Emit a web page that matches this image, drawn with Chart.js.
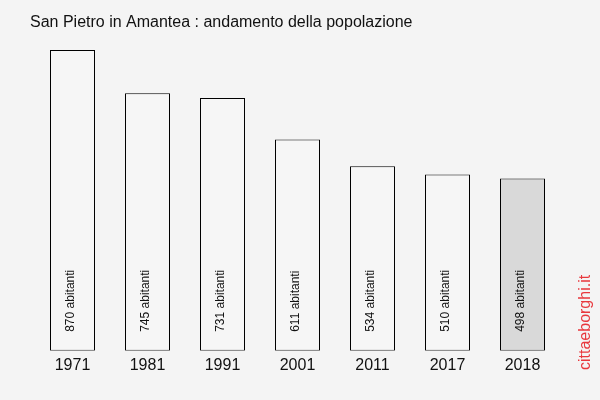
<!DOCTYPE html>
<html>
<head>
<meta charset="utf-8">
<script src="https://cdn.jsdelivr.net/npm/chart.js@4/dist/chart.umd.min.js"></script>
<style>
  html, body { margin: 0; padding: 0; background: #f4f4f4; }
  #wrap { width: 600px; height: 400px; }
</style>
</head>
<body>
<div id="wrap"><canvas id="popChart" width="600" height="400"></canvas></div>
<script>
// data
const years = ['1971', '1981', '1991', '2001', '2011', '2017', '2018'];
const population = [870, 745, 731, 611, 534, 510, 498];
const barColors = ['#f6f6f6', '#f6f6f6', '#f6f6f6', '#f6f6f6', '#f6f6f6', '#f6f6f6', '#d9d9d9'];

const FONT = '"Liberation Sans", Arial, sans-serif';

// background, title, watermark and the labels inside bars
const decorations = {
  id: 'decorations',
  beforeDraw(chart) {
    const ctx = chart.ctx;
    ctx.save();
    ctx.fillStyle = '#f4f4f4';
    ctx.fillRect(0, 0, chart.width, chart.height);
    ctx.restore();
  },
  afterDatasetsDraw(chart) {
    const ctx = chart.ctx;
    const meta = chart.getDatasetMeta(0);
    ctx.save();
    ctx.font = '12px ' + FONT;
    ctx.fillStyle = '#111';
    ctx.textAlign = 'left';
    ctx.textBaseline = 'middle';
    meta.data.forEach((bar, i) => {
      ctx.save();
      ctx.translate(bar.x - 2, bar.base - 19);
      ctx.rotate(-Math.PI / 2);
      ctx.fillText(population[i] + ' abitanti', 0, 0);
      ctx.restore();
    });
    ctx.restore();
  },
  afterDraw(chart) {
    const ctx = chart.ctx;
    ctx.save();
    ctx.font = '16px ' + FONT;
    ctx.fillStyle = '#111';
    ctx.textAlign = 'left';
    ctx.textBaseline = 'middle';
    ctx.fillText('San Pietro in Amantea : andamento della popolazione', 30, 23);

    ctx.fillStyle = '#e8383d';
    ctx.translate(590, 370);
    ctx.rotate(-Math.PI / 2);
    ctx.textBaseline = 'alphabetic';
    ctx.fillText('cittaeborghi.it', 0, 0);
    ctx.restore();
  }
};

new Chart(document.getElementById('popChart'), {
  type: 'bar',
  data: {
    labels: years,
    datasets: [{
      data: population,
      backgroundColor: barColors,
      borderColor: '#000',
      borderWidth: 1,
      borderSkipped: false,
      barPercentage: 0.6,
      categoryPercentage: 1.0
    }]
  },
  options: {
    responsive: false,
    animation: false,
    layout: { padding: { left: 35, right: 40, top: 50, bottom: 20 } },
    plugins: {
      legend: { display: false },
      tooltip: { enabled: false },
      title: { display: false }
    },
    scales: {
      x: {
        grid: { display: false, drawTicks: false },
        border: { display: false },
        ticks: { color: '#111', font: { family: FONT, size: 16 }, padding: 5 }
      },
      y: {
        display: false,
        min: 0,
        max: 870
      }
    }
  },
  plugins: [decorations]
});
</script>
</body>
</html>
